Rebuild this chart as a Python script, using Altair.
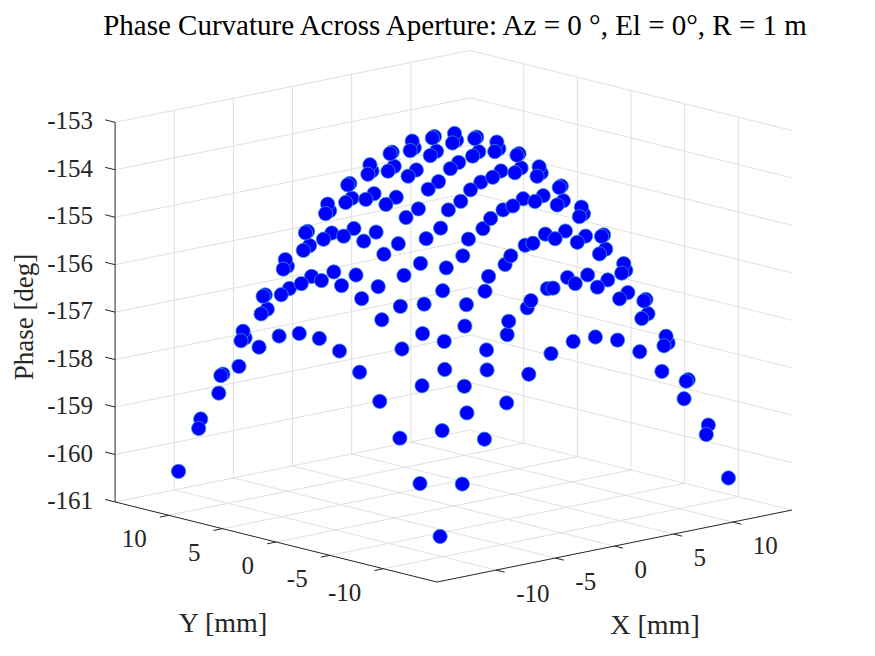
import altair as alt
import pandas as pd

# ---------------- data ----------------
# element positions of the 14 x 14 aperture grid [mm]
POS_MM = [-12.1875, -10.3125, -8.4375, -6.5625, -4.6875, -2.8125, -0.9375,
          0.9375, 2.8125, 4.6875, 6.5625, 8.4375, 10.3125, 12.1875]

# phase [deg]; row i -> Y = POS_MM[i], column j -> X = POS_MM[j]
PHASE_DEG = [
    [-160.34, -159.33, -158.48, -157.81, -157.30, -156.96, -156.80, -156.80, -156.96, -157.30, -157.81, -158.48, -159.33, -160.34],
    [-159.33, -158.31, -157.47, -156.80, -156.29, -155.95, -155.78, -155.78, -155.95, -156.29, -156.80, -157.47, -158.31, -159.33],
    [-158.48, -157.47, -156.63, -155.95, -155.45, -155.11, -154.94, -154.94, -155.11, -155.45, -155.95, -156.63, -157.47, -158.48],
    [-157.81, -156.80, -155.95, -155.28, -154.77, -154.43, -154.26, -154.26, -154.43, -154.77, -155.28, -155.95, -156.80, -157.81],
    [-157.30, -156.29, -155.45, -154.77, -154.26, -153.93, -153.76, -153.76, -153.93, -154.26, -154.77, -155.45, -156.29, -157.30],
    [-156.96, -155.95, -155.11, -154.43, -153.93, -153.59, -153.42, -153.42, -153.59, -153.93, -154.43, -155.11, -155.95, -156.96],
    [-156.80, -155.78, -154.94, -154.26, -153.76, -153.42, -153.25, -153.25, -153.42, -153.76, -154.26, -154.94, -155.78, -156.80],
    [-156.80, -155.78, -154.94, -154.26, -153.76, -153.42, -153.25, -153.25, -153.42, -153.76, -154.26, -154.94, -155.78, -156.80],
    [-156.96, -155.95, -155.11, -154.43, -153.93, -153.59, -153.42, -153.42, -153.59, -153.93, -154.43, -155.11, -155.95, -156.96],
    [-157.30, -156.29, -155.45, -154.77, -154.26, -153.93, -153.76, -153.76, -153.93, -154.26, -154.77, -155.45, -156.29, -157.30],
    [-157.81, -156.80, -155.95, -155.28, -154.77, -154.43, -154.26, -154.26, -154.43, -154.77, -155.28, -155.95, -156.80, -157.81],
    [-158.48, -157.47, -156.63, -155.95, -155.45, -155.11, -154.94, -154.94, -155.11, -155.45, -155.95, -156.63, -157.47, -158.48],
    [-159.33, -158.31, -157.47, -156.80, -156.29, -155.95, -155.78, -155.78, -155.95, -156.29, -156.80, -157.47, -158.31, -159.33],
    [-160.34, -159.33, -158.48, -157.81, -157.30, -156.96, -156.80, -156.80, -156.96, -157.30, -157.81, -158.48, -159.33, -160.34],
]

X_TICKS = [-10, -5, 0, 5, 10]
Y_TICKS = [-10, -5, 0, 5, 10]
Z_TICKS = [-161, -160, -159, -158, -157, -156, -155, -154, -153]
X_LIM = [-15, 15]
Y_LIM = [-15, 15]
Z_LIM = [-161, -153]

TITLE = "Phase Curvature Across Aperture: Az = 0 \u00b0, El = 0\u00b0, R = 1 m"
X_TITLE = "X [mm]"
Y_TITLE = "Y [mm]"
Z_TITLE = "Phase [deg]"

# ---------------- view (orthographic 3-D projection) ----------------
ORIGIN = (453.5, 506.0)     # screen position of (0, 0, Z_LIM[0])
EX = (11.83, -2.40)         # screen step per mm of X
EY = (-10.73, -2.67)        # screen step per mm of Y
EZ = -47.45                 # screen step per degree of phase

PAD = 8
OFF = 8 + PAD               # page offset of the plot area
W, H = 875 - 2 * OFF, 656 - 2 * OFF
FONT = "Liberation Serif"


def proj(x, y, z):
    sx = ORIGIN[0] + EX[0] * x + EY[0] * y
    sy = ORIGIN[1] + EX[1] * x + EY[1] * y + EZ * (z - Z_LIM[0])
    return sx, sy


def seg_frame(segs):
    rows = []
    for (a, b) in segs:
        x1, y1 = proj(*a)
        x2, y2 = proj(*b)
        rows.append({"sx": x1, "sy": y1, "sx2": x2, "sy2": y2})
    return pd.DataFrame(rows)


xmin, xmax = X_LIM
ymin, ymax = Y_LIM
zmin, zmax = Z_LIM

grid = []
for xt in X_TICKS:
    grid.append(((xt, ymax, zmin), (xt, ymax, zmax)))
    grid.append(((xt, ymin, zmin), (xt, ymax, zmin)))
for yt in Y_TICKS:
    grid.append(((xmax, yt, zmin), (xmax, yt, zmax)))
    grid.append(((xmin, yt, zmin), (xmax, yt, zmin)))
for zt in Z_TICKS:
    grid.append(((xmin, ymax, zt), (xmax, ymax, zt)))
    grid.append(((xmax, ymin, zt), (xmax, ymax, zt)))
grid_df = seg_frame(grid)

axes_segs = [
    ((xmin, ymax, zmin), (xmin, ymax, zmax)),
    ((xmin, ymax, zmin), (xmin, ymin, zmin)),
    ((xmin, ymin, zmin), (xmax, ymin, zmin)),
]
for zt in Z_TICKS:
    axes_segs.append(((xmin, ymax, zt), (xmin, ymax + 0.93, zt)))
for yt in Y_TICKS:
    axes_segs.append(((xmin, yt, zmin), (xmin - 0.75, yt, zmin)))
for xt in X_TICKS:
    axes_segs.append(((xt, ymin, zmin), (xt, ymin - 0.8, zmin)))
axes_df = seg_frame(axes_segs)

# points
pts = []
for i, yv in enumerate(POS_MM):
    for j, xv in enumerate(POS_MM):
        zv = PHASE_DEG[i][j]
        sx, sy = proj(xv, yv, zv)
        pts.append({"X": xv, "Y": yv, "Phase": zv, "sx": sx, "sy": sy, "depth": xv + yv})
pts_df = pd.DataFrame(pts).sort_values("depth", ascending=False).reset_index(drop=True)

# tick labels
lab_right = []
for zt in Z_TICKS:
    sx, sy = proj(xmin, ymax, zt)
    lab_right.append({"sx": sx - 22, "sy": sy + 7, "t": str(zt)})
for yt in Y_TICKS:
    sx, sy = proj(xmin, yt, zmin)
    lab_right.append({"sx": sx - 22, "sy": sy + 32, "t": str(yt)})
lab_right_df = pd.DataFrame(lab_right)

lab_left = []
for xt in X_TICKS:
    sx, sy = proj(xt, ymin, zmin)
    lab_left.append({"sx": sx + 20, "sy": sy + 32, "t": str(xt)})
lab_left_df = pd.DataFrame(lab_left)

xs = alt.Scale(domain=[OFF, OFF + W], nice=False, zero=False)
ys = alt.Scale(domain=[OFF, OFF + H], nice=False, zero=False, reverse=True)


def X(f):
    return alt.X(f, type="quantitative", scale=xs, axis=None)


def Y(f):
    return alt.Y(f, type="quantitative", scale=ys, axis=None)


grid_layer = alt.Chart(grid_df).mark_rule(color="#dcdcdc", strokeWidth=0.9).encode(
    x=X("sx"), y=Y("sy"), x2="sx2", y2="sy2")

axes_layer = alt.Chart(axes_df).mark_rule(color="#262626", strokeWidth=1.0).encode(
    x=X("sx"), y=Y("sy"), x2="sx2", y2="sy2")

points_layer = alt.Chart(pts_df).mark_point(
    shape="circle", filled=True, fill="#0000ff", stroke="#3a8fd6",
    strokeWidth=0.8, opacity=1, size=205).encode(
    x=X("sx"), y=Y("sy"))

right_labels = alt.Chart(lab_right_df).mark_text(
    align="right", baseline="alphabetic", font=FONT, fontSize=25, color="#262626").encode(
    x=X("sx"), y=Y("sy"), text="t:N")

left_labels = alt.Chart(lab_left_df).mark_text(
    align="left", baseline="alphabetic", font=FONT, fontSize=25, color="#262626").encode(
    x=X("sx"), y=Y("sy"), text="t:N")

title_layer = alt.Chart(pd.DataFrame({"t": [TITLE]})).mark_text(
    align="center", baseline="alphabetic", font=FONT, fontSize=29, color="#000000").encode(
    x=alt.value(455 - OFF), y=alt.value(35 - OFF), text="t:N")

ytitle_layer = alt.Chart(pd.DataFrame({"t": [Y_TITLE]})).mark_text(
    align="center", baseline="alphabetic", font=FONT, fontSize=28, color="#262626").encode(
    x=alt.value(223 - OFF), y=alt.value(632 - OFF), text="t:N")

xtitle_layer = alt.Chart(pd.DataFrame({"t": [X_TITLE]})).mark_text(
    align="center", baseline="alphabetic", font=FONT, fontSize=28, color="#262626").encode(
    x=alt.value(655 - OFF), y=alt.value(634 - OFF), text="t:N")

ztitle_layer = alt.Chart(pd.DataFrame({"t": [Z_TITLE]})).mark_text(
    align="center", baseline="alphabetic", angle=270, font=FONT, fontSize=27, color="#262626").encode(
    x=alt.value(33 - OFF), y=alt.value(317 - OFF), text="t:N")

chart = alt.layer(
    grid_layer, axes_layer, points_layer, right_labels, left_labels,
    title_layer, ytitle_layer, xtitle_layer, ztitle_layer
).properties(
    width=W, height=H, padding=PAD, autosize=alt.AutoSizeParams(type="none"),
    background="white"
).configure_view(stroke=None)

chart.save("out.html", embed_options={"renderer": "svg", "actions": False})
